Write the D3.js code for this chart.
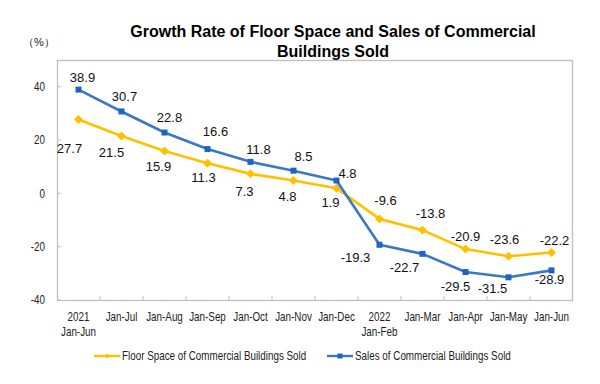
<!DOCTYPE html>
<html>
<head>
<meta charset="utf-8">
<script src="https://cdn.jsdelivr.net/npm/d3@7"></script>
<style>
  body { margin: 0; background: #fff; }
  svg { display: block; font-family: "Liberation Sans", Arial, sans-serif; }
</style>
</head>
<body>
<div id="chart"></div>
<script>
const WIDTH = 600;
const HEIGHT = 384;
const MARGIN = { top: 60, right: 27, bottom: 84, left: 57 };
const SQUEEZE = 0.82; // the reference uses a narrow face for axis and legend text

const categories = [
  ["2021", "Jan-Jun"], ["Jan-Jul"], ["Jan-Aug"], ["Jan-Sep"], ["Jan-Oct"], ["Jan-Nov"], ["Jan-Dec"],
  ["2022", "Jan-Feb"], ["Jan-Mar"], ["Jan-Apr"], ["Jan-May"], ["Jan-Jun"],
];
const floorSpace = [27.7, 21.5, 15.9, 11.3, 7.3, 4.8, 1.9, -9.6, -13.8, -20.9, -23.6, -22.2];
const sales = [38.9, 30.7, 22.8, 16.6, 11.8, 8.5, 4.8, -19.3, -22.7, -29.5, -31.5, -28.9];
const yTicks = [-40, -20, 0, 20, 40];

// label nudges (pixels from the marker)
const floorLabelOffset = [[-9, 29], [-10, 16], [-6, 16], [-4, 14], [-6, 18], [-6, 16], [-6, 14],
  [6, -18], [8, -17], [0, -13], [-4, -17], [3, -12]];
const salesLabelOffset = [[4, -12], [3, -15], [5, -15], [8, -18], [8, -12], [10, -14], [11, -7],
  [-24, 13], [-18, 14], [-10, 14], [-16, 11], [-2, 9]];

const YELLOW = "#FFC000";
const BLUE_LINE = "#3B78C3";
const BLUE_MARK = "#1F63C6";
const GRID = "#BFBFBF";

const svg = d3.select("#chart").append("svg")
  .attr("width", WIDTH)
  .attr("height", HEIGHT)
  .attr("viewBox", `0 0 ${WIDTH} ${HEIGHT}`);

const x = d3.scaleBand()
  .domain(d3.range(categories.length))
  .range([MARGIN.left, WIDTH - MARGIN.right]);
const y = d3.scaleLinear()
  .domain([-40, 50])
  .range([HEIGHT - MARGIN.bottom, MARGIN.top]);
const cx = (i) => x(i) + x.bandwidth() / 2;

// title
const title = svg.append("text")
  .attr("text-anchor", "middle")
  .attr("font-size", "16px")
  .attr("font-weight", "bold")
  .attr("fill", "#000");
title.append("tspan").attr("x", 333).attr("y", 37).text("Growth Rate of Floor Space and Sales of Commercial");
title.append("tspan").attr("x", 333).attr("y", 57).text("Buildings Sold");

svg.append("text")
  .attr("x", 39)
  .attr("y", 46)
  .attr("text-anchor", "middle")
  .attr("font-size", "11px")
  .attr("fill", "#222")
  .text("（%）");

// plot frame
svg.append("rect")
  .attr("x", MARGIN.left + 0.5)
  .attr("y", MARGIN.top + 0.5)
  .attr("width", WIDTH - MARGIN.left - MARGIN.right - 1)
  .attr("height", HEIGHT - MARGIN.top - MARGIN.bottom)
  .attr("fill", "none")
  .attr("stroke", GRID)
  .attr("stroke-width", 1.3);

// y axis
svg.append("g")
  .selectAll("line")
  .data(yTicks)
  .join("line")
  .attr("x1", MARGIN.left)
  .attr("x2", MARGIN.left + 4)
  .attr("y1", (d) => y(d))
  .attr("y2", (d) => y(d))
  .attr("stroke", GRID);
svg.append("g")
  .selectAll("g")
  .data(yTicks)
  .join("g")
  .attr("transform", (d) => `translate(45,${y(d)}) scale(${SQUEEZE},1)`)
  .append("text")
  .attr("text-anchor", "end")
  .attr("dy", "0.35em")
  .attr("font-size", "12px")
  .attr("fill", "#222")
  .text((d) => d);

// x axis
const xAxis = svg.append("g")
  .attr("transform", `translate(0,${HEIGHT - MARGIN.bottom})`);
xAxis.selectAll("line")
  .data(d3.range(1, categories.length))
  .join("line")
  .attr("x1", (i) => x(i))
  .attr("x2", (i) => x(i))
  .attr("y1", 0)
  .attr("y2", -4)
  .attr("stroke", GRID);
xAxis.selectAll("g")
  .data(categories)
  .join("g")
  .attr("transform", (d, i) => `translate(${cx(i)},0) scale(${SQUEEZE},1)`)
  .append("text")
  .attr("text-anchor", "middle")
  .attr("font-size", "12px")
  .attr("fill", "#222")
  .each(function (lines) {
    d3.select(this).selectAll("tspan")
      .data(lines)
      .join("tspan")
      .attr("x", 0)
      .attr("y", (d, j) => 21 + j * 15)
      .text((d) => d);
  });

const line = d3.line()
  .x((d, i) => cx(i))
  .y((d) => y(d));

function drawSeries(values, color, markColor, marker, offsets) {
  const g = svg.append("g");
  g.append("path")
    .datum(values)
    .attr("fill", "none")
    .attr("stroke", color)
    .attr("stroke-width", 2.6)
    .attr("stroke-linejoin", "round")
    .attr("d", line);
  g.selectAll("path.mark")
    .data(values)
    .join("path")
    .attr("class", "mark")
    .attr("transform", (d, i) => `translate(${cx(i)},${y(d)})`)
    .attr("d", marker)
    .attr("fill", markColor);
  g.selectAll("text")
    .data(values)
    .join("text")
    .attr("x", (d, i) => cx(i) + offsets[i][0])
    .attr("y", (d, i) => y(d) + offsets[i][1])
    .attr("dy", "0.35em")
    .attr("text-anchor", "middle")
    .attr("font-size", "13px")
    .attr("fill", "#111")
    .text((d) => d.toFixed(1));
}

const diamond = "M0,-4.5L4.5,0L0,4.5L-4.5,0Z";
const square = "M-3,-3H3V3H-3Z";

drawSeries(floorSpace, YELLOW, YELLOW, diamond, floorLabelOffset);
drawSeries(sales, BLUE_LINE, BLUE_MARK, square, salesLabelOffset);

// legend
const legendItems = [
  { label: "Floor Space of Commercial Buildings Sold", color: YELLOW, mark: YELLOW, shape: "M0,-2.5L2.5,0L0,2.5L-2.5,0Z", x: 94 },
  { label: "Sales of Commercial Buildings Sold", color: BLUE_LINE, mark: BLUE_MARK, shape: "M-2.5,-2.5H2.5V2.5H-2.5Z", x: 327 },
];
const legend = svg.append("g").attr("transform", "translate(0,356)");
legendItems.forEach((item) => {
  const li = legend.append("g").attr("transform", `translate(${item.x},0)`);
  li.append("line").attr("x1", 0).attr("x2", 26).attr("stroke", item.color).attr("stroke-width", 2.4);
  li.append("path").attr("transform", "translate(13,0)").attr("d", item.shape).attr("fill", item.mark);
  li.append("g")
    .attr("transform", `translate(28,0) scale(${SQUEEZE},1)`)
    .append("text")
    .attr("dy", "0.35em")
    .attr("font-size", "12px")
    .attr("fill", "#222")
    .text(item.label);
});
</script>
</body>
</html>
